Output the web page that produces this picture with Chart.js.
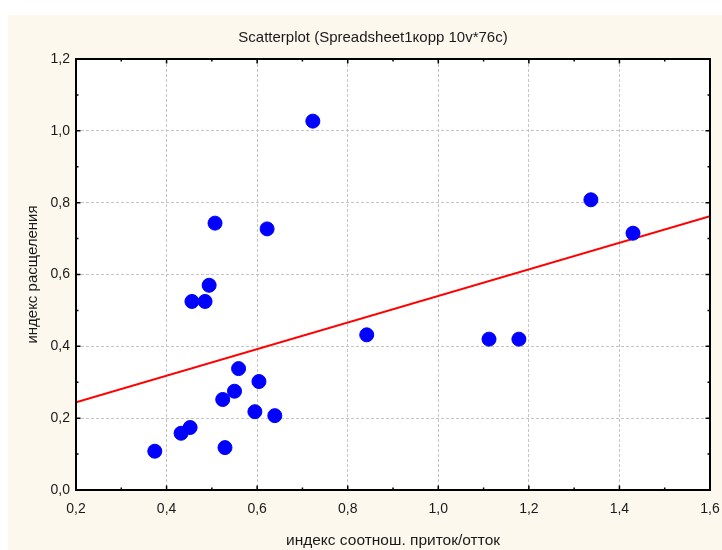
<!DOCTYPE html>
<html>
<head>
<meta charset="utf-8">
<script src="https://cdn.jsdelivr.net/npm/chart.js@4"></script>
<style>
  html, body { margin: 0; background: #fff; }
  #wrap { position: absolute; left: 8px; top: 15px; width: 714px; height: 535px; background: #fdf8ee; }
</style>
</head>
<body>
<div id="wrap"><canvas id="scatter"></canvas></div>
<script>
// chart text
const chartTitle = "Scatterplot (Spreadsheet1корр 10v*76c)";
const xTitle = "индекс соотнош. приток/отток";
const yTitle = "индекс расщеления";

// points
const xValues = [0.374, 0.432, 0.452, 0.529, 0.524, 0.550, 0.559, 0.595, 0.604, 0.639,
                 0.456, 0.485, 0.494, 0.507, 0.622, 0.723, 0.842, 1.112, 1.178, 1.337, 1.430];
const yValues = [0.108, 0.158, 0.174, 0.118, 0.252, 0.275, 0.338, 0.218, 0.302, 0.207,
                 0.525, 0.525, 0.570, 0.743, 0.727, 1.027, 0.432, 0.420, 0.420, 0.808, 0.715];

// fitted line, two ends
const fitX = [0.2, 1.6];
const fitY = [0.244, 0.762];

// axes
const xRange = [0.2, 1.6];
const yRange = [0, 1.2];
const tickStep = 0.2;

const FONT = "'Liberation Sans', Arial, sans-serif";
const fmt = v => v.toFixed(1).replace('.', ',');

// white plot area, black frame and inward ticks like Statistica
const statFrame = {
  id: 'statFrame',
  beforeDraw(chart) {
    const { ctx, chartArea: a } = chart;
    ctx.save();
    ctx.fillStyle = '#fff';
    ctx.fillRect(a.left, a.top, a.right - a.left, a.bottom - a.top);
    ctx.restore();
  },
  afterDraw(chart) {
    const { ctx, chartArea: a, scales } = chart;
    ctx.save();
    ctx.strokeStyle = '#000';
    ctx.lineWidth = 1.5;
    ctx.beginPath();
    const marks = (scale) => {
      const px = scale.ticks.map((t, i) => scale.getPixelForTick(i));
      const out = px.map(p => [p, 4.5]);
      for (let i = 0; i < px.length - 1; i++) out.push([(px[i] + px[i + 1]) / 2, 2.5]);
      return out;
    };
    marks(scales.x).forEach(([p, len]) => {
      ctx.moveTo(p, a.bottom); ctx.lineTo(p, a.bottom - len);
      ctx.moveTo(p, a.top); ctx.lineTo(p, a.top + len);
    });
    marks(scales.y).forEach(([p, len]) => {
      ctx.moveTo(a.left, p); ctx.lineTo(a.left + len, p);
      ctx.moveTo(a.right, p); ctx.lineTo(a.right - len, p);
    });
    ctx.stroke();
    ctx.lineWidth = 2;
    ctx.strokeRect(a.left, a.top, a.right - a.left, a.bottom - a.top);
    ctx.restore();
  }
};

const points = xValues.map((x, i) => ({ x, y: yValues[i] }));
const fitLine = fitX.map((x, i) => ({ x, y: fitY[i] }));

new Chart(document.getElementById('scatter'), {
  type: 'scatter',
  data: {
    datasets: [
      {
        data: points,
        backgroundColor: '#0000ff',
        borderColor: '#0000ff',
        pointRadius: 7,
        pointHoverRadius: 7,
        order: 1
      },
      {
        type: 'line',
        data: fitLine,
        borderColor: '#ff0000',
        borderWidth: 2,
        pointRadius: 0,
        fill: false,
        order: 2
      }
    ]
  },
  options: {
    responsive: true,
    maintainAspectRatio: false,
    animation: false,
    layout: { padding: { left: 28, right: 12, top: 0, bottom: 0 } },
    plugins: {
      legend: { display: false },
      tooltip: { enabled: false },
      title: {
        display: true,
        text: chartTitle,
        color: '#1a1a1a',
        font: { family: FONT, size: 15, weight: 'normal' },
        padding: { top: 14, bottom: 12 }
      }
    },
    scales: {
      x: {
        type: 'linear',
        min: xRange[0],
        max: xRange[1],
        afterFit(s) { s.height = 60; s.paddingLeft = 0; s.paddingRight = 0; },
        ticks: {
          stepSize: tickStep,
          padding: 11,
          color: '#1a1a1a',
          font: { family: FONT, size: 14 },
          callback: fmt
        },
        grid: { color: '#c4c4c4', lineWidth: 1, drawTicks: false },
        border: { display: false, dash: [3, 2] },
        title: {
          display: true,
          text: xTitle,
          color: '#1a1a1a',
          font: { family: FONT, size: 15.5 },
          padding: { top: 0, bottom: 0 }
        }
      },
      y: {
        type: 'linear',
        min: yRange[0],
        max: yRange[1],
        afterFit(s) { s.width = 40; },
        ticks: {
          stepSize: tickStep,
          padding: 6,
          color: '#1a1a1a',
          font: { family: FONT, size: 14 },
          callback: fmt
        },
        grid: { color: '#c4c4c4', lineWidth: 1, drawTicks: false },
        border: { display: false, dash: [3, 2] },
        title: {
          display: true,
          text: yTitle,
          color: '#1a1a1a',
          font: { family: FONT, size: 15 },
          padding: { top: -12, bottom: 0 }
        }
      }
    }
  },
  plugins: [statFrame]
});
</script>
</body>
</html>
